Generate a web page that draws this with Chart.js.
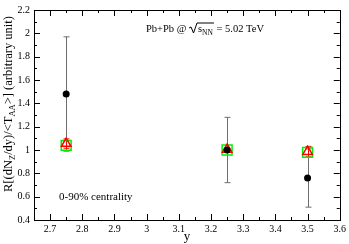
<!DOCTYPE html>
<html>
<head>
<meta charset="utf-8">
<script src="https://cdn.jsdelivr.net/npm/chart.js@4.4.1/dist/chart.umd.min.js"></script>
<style>
  html, body { margin: 0; padding: 0; background: #fff; }
  #wrap { width: 349px; height: 244px; }
</style>
</head>
<body>
<div id="wrap"><canvas id="chart"></canvas></div>
<script>
// rapidity bins
const rapidity = [2.75, 3.25, 3.5];
// measured points (black) with errors
const dataValues = [1.48, 1.0, 0.76];
const dataErrors = [0.49, 0.28, 0.25];
// model curves
const triangleValues = [1.055, 1.005, 0.986];
const triangleErrors = [0.04, 0.0, 0.045];
const squareValues = [1.04, 1.0, 0.98];
// axes
const xTicks = [2.7, 2.8, 2.9, 3.0, 3.1, 3.2, 3.3, 3.4, 3.5, 3.6];
const xMinor = [2.65, 2.75, 2.85, 2.95, 3.05, 3.15, 3.25, 3.35, 3.45, 3.55];
const yTicks = [0.4, 0.6, 0.8, 1.0, 1.2, 1.4, 1.6, 1.8, 2.0, 2.2];
const yMinor = [0.5, 0.7, 0.9, 1.1, 1.3, 1.5, 1.7, 1.9, 2.1];

const serif = 'Liberation Serif, Times New Roman, serif';

const toPoints = (ys) => rapidity.map((x, i) => ({ x, y: ys[i] }));
const fmt = (v) => String(Number(v.toFixed(2)));

// error bars drawn under the markers
const errorBars = {
  id: 'errorBars',
  beforeDatasetsDraw(chart) {
    const { ctx, scales: { x, y } } = chart;
    const draw = (vals, errs, color) => {
      ctx.save();
      ctx.strokeStyle = color;
      ctx.lineWidth = 1;
      vals.forEach((v, i) => {
        if (!errs[i]) return;
        const px = Math.round(x.getPixelForValue(rapidity[i])) + 0.5;
        const top = y.getPixelForValue(v + errs[i]);
        const bot = y.getPixelForValue(v - errs[i]);
        ctx.beginPath();
        ctx.moveTo(px, top); ctx.lineTo(px, bot);
        ctx.moveTo(px - 3, top); ctx.lineTo(px + 3, top);
        ctx.moveTo(px - 3, bot); ctx.lineTo(px + 3, bot);
        ctx.stroke();
      });
      ctx.restore();
    };
    draw(dataValues, dataErrors, '#6e6e6e');
    draw(triangleValues, triangleErrors, '#ff0000');
  }
};

// frame, inward ticks, and text
const frame = {
  id: 'frame',
  afterDraw(chart) {
    const { ctx, chartArea: a, scales: { x, y } } = chart;
    ctx.save();
    ctx.strokeStyle = '#000';
    ctx.lineWidth = 1;
    ctx.strokeRect(Math.round(a.left) + 0.5, Math.round(a.top) + 0.5,
      Math.round(a.right - a.left), Math.round(a.bottom - a.top));
    ctx.beginPath();
    const xt = (v, len) => {
      const px = Math.round(x.getPixelForValue(v)) + 0.5;
      ctx.moveTo(px, a.bottom); ctx.lineTo(px, a.bottom - len);
      ctx.moveTo(px, a.top); ctx.lineTo(px, a.top + len);
    };
    const yt = (v, len) => {
      const py = Math.round(y.getPixelForValue(v)) + 0.5;
      ctx.moveTo(a.left, py); ctx.lineTo(a.left + len, py);
      ctx.moveTo(a.right, py); ctx.lineTo(a.right - len, py);
    };
    xTicks.forEach(v => xt(v, 6));
    xMinor.forEach(v => xt(v, 3));
    yTicks.forEach(v => yt(v, 6));
    yMinor.forEach(v => yt(v, 3));
    ctx.stroke();

    // rotated y title with subscripts
    const parts = [
      ['R[(dN', 0], ['Z', 1], ['/dy)/<T', 0], ['AA', 1], ['>] (arbitrary unit)', 0]
    ];
    const big = '12.5px ' + serif, small = '8.5px ' + serif;
    let total = 0;
    parts.forEach(([t, s]) => { ctx.font = s ? small : big; total += ctx.measureText(t).width; });
    ctx.translate(12, 104);
    ctx.rotate(-Math.PI / 2);
    ctx.fillStyle = '#000';
    ctx.textBaseline = 'alphabetic';
    let cx = -total / 2;
    parts.forEach(([t, s]) => {
      ctx.font = s ? small : big;
      ctx.fillText(t, cx, s ? 3 : 0);
      cx += ctx.measureText(t).width;
    });
    ctx.setTransform(1, 0, 0, 1, 0, 0);

    // energy label
    ctx.fillStyle = '#000';
    ctx.font = '10.5px ' + serif;
    let lx = 146, ly = 32;
    ctx.fillText('Pb+Pb @ ', lx, ly);
    lx += ctx.measureText('Pb+Pb @ ').width;
    ctx.beginPath();
    ctx.moveTo(lx, ly - 4); ctx.lineTo(lx + 2, ly - 5);
    ctx.lineTo(lx + 4.5, ly + 1); ctx.lineTo(lx + 8, ly - 9);
    lx += 9;
    ctx.fillText('s', lx, ly);
    lx += ctx.measureText('s').width;
    ctx.font = '7.5px ' + serif;
    ctx.fillText('NN', lx, ly + 3);
    lx += ctx.measureText('NN').width + 1;
    ctx.lineTo(lx, ly - 9);
    ctx.stroke();
    ctx.font = '10.5px ' + serif;
    ctx.fillText(' = 5.02 TeV', lx, ly);

    ctx.font = '11px ' + serif;
    ctx.fillText('0-90% centrality', 59, 200);
    ctx.restore();
  }
};

new Chart(document.getElementById('chart'), {
  type: 'scatter',
  data: {
    datasets: [
      {
        data: toPoints(dataValues),
        pointStyle: 'circle',
        pointRadius: 3.5,
        backgroundColor: '#000',
        borderColor: '#000',
        borderWidth: 0
      },
      {
        data: toPoints(triangleValues),
        pointStyle: 'triangle',
        pointRadius: 5.5,
        backgroundColor: 'rgba(0,0,0,0)',
        borderColor: '#ff0000',
        borderWidth: 1.5
      },
      {
        data: toPoints(squareValues),
        pointStyle: 'rect',
        pointRadius: 7,
        backgroundColor: 'rgba(0,0,0,0)',
        borderColor: '#00ee00',
        borderWidth: 1.5
      }
    ]
  },
  options: {
    responsive: true,
    maintainAspectRatio: false,
    animation: false,
    events: [],
    layout: { padding: { top: 5, right: 7, left: 0, bottom: 0 } },
    plugins: { legend: { display: false }, tooltip: { enabled: false } },
    scales: {
      x: {
        type: 'linear',
        min: 2.65,
        max: 3.6,
        afterBuildTicks: (s) => { s.ticks = xTicks.map(v => ({ value: v })); },
        afterFit: (s) => { s.height = 24; },
        grid: { display: false, drawTicks: false },
        border: { display: false },
        ticks: { color: '#000', font: { family: serif, size: 10 }, padding: 3, maxRotation: 0, autoSkip: false, callback: fmt },
        title: { display: true, text: 'y', color: '#000', font: { family: serif, size: 13 }, padding: 0 }
      },
      y: {
        type: 'linear',
        min: 0.4,
        max: 2.2,
        afterBuildTicks: (s) => { s.ticks = yTicks.map(v => ({ value: v })); },
        afterFit: (s) => { s.width = 34; },
        grid: { display: false, drawTicks: false },
        border: { display: false },
        ticks: { color: '#000', font: { family: serif, size: 10 }, padding: 4, autoSkip: false, callback: fmt }
      }
    }
  },
  plugins: [errorBars, frame]
});
</script>
</body>
</html>
